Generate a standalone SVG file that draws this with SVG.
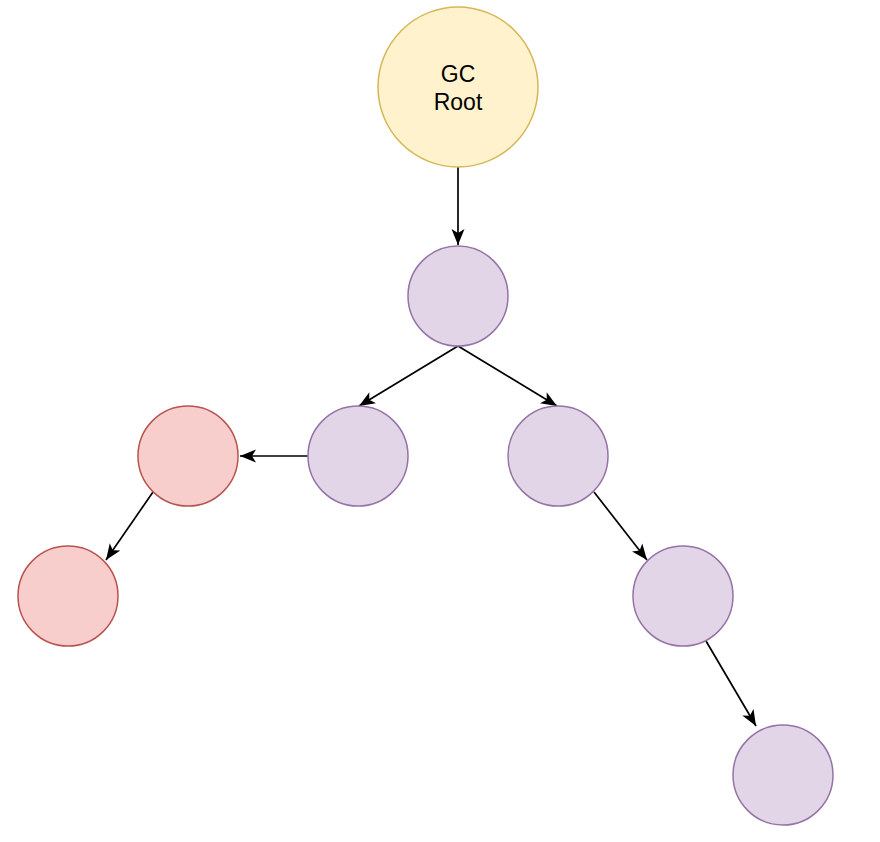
<svg xmlns="http://www.w3.org/2000/svg" width="880" height="842" viewBox="0 0 880 842">
<style>
.root{fill:#fff2cc;stroke:#d6b656;stroke-width:1.5}
.live{fill:#e1d5e7;stroke:#9673a6;stroke-width:1.5}
.dead{fill:#f8cecc;stroke:#b85450;stroke-width:1.5}
.edge{stroke:#000;stroke-width:1.7;fill:none;marker-end:url(#arr)}
text{font-family:"Liberation Sans",Arial,sans-serif;font-size:23px;fill:#000;text-anchor:middle}
</style>
<defs>
<marker id="arr" markerUnits="userSpaceOnUse" markerWidth="18" markerHeight="14" refX="16" refY="7" orient="auto" viewBox="0 0 18 14">
<path d="M0,0.5 L16,7 L0,13.5 L4,7 Z" fill="#000"/>
</marker>
</defs>
<rect width="880" height="842" fill="#fff"/>
<g id="connectors">
<line class="edge" x1="458" y1="167" x2="458" y2="245"/>
<line class="edge" x1="458" y1="346" x2="359" y2="406"/>
<line class="edge" x1="458" y1="346" x2="557" y2="406"/>
<line class="edge" x1="308" y1="456" x2="240" y2="456"/>
<line class="edge" x1="153" y1="492" x2="106" y2="560"/>
<line class="edge" x1="594" y1="492" x2="647" y2="560"/>
<line class="edge" x1="706" y1="641" x2="756" y2="726"/>
</g>
<g id="gcroot"><circle class="root" cx="458" cy="87" r="80"/><text x="458" y="82">GC</text><text x="458" y="110">Root</text></g>
<g id="n1"><circle class="live" cx="458" cy="296" r="50"/></g>
<g id="n2"><circle class="live" cx="358" cy="456" r="50"/></g>
<g id="n3"><circle class="live" cx="558" cy="456" r="50"/></g>
<g id="d1"><circle class="dead" cx="188" cy="456" r="50"/></g>
<g id="d2"><circle class="dead" cx="68" cy="596" r="50"/></g>
<g id="n4"><circle class="live" cx="683" cy="596" r="50"/></g>
<g id="n5"><circle class="live" cx="783" cy="775" r="50"/></g>
</svg>
